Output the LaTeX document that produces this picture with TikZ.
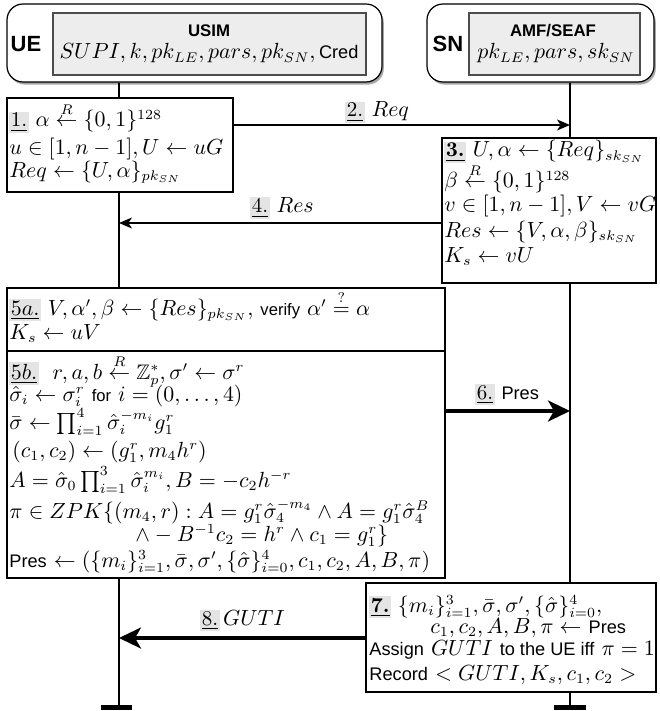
\documentclass[tikz,border=0pt]{standalone}
\usepackage{amsmath,amssymb}
\usepackage{fontspec}
\setsansfont{Liberation Sans}
\usetikzlibrary{arrows.meta,shadows,fit}
\definecolor{hlgray}{HTML}{E4E4E4}
\definecolor{innerfill}{HTML}{EDEDED}
\newcommand{\stepnum}[1]{{\setlength{\fboxsep}{0.7pt}\colorbox{hlgray}{\underline{#1}}}}
\newcommand{\sftxt}[1]{{\fontsize{9.1}{11}\selectfont\sffamily #1}}
\newcommand{\smsf}[1]{{\fontsize{8.3}{10}\selectfont\sffamily #1}}
\tikzset{
  partbox/.style={draw=black, line width=0.6pt, rounded corners=8pt, fill=white, inner sep=0pt,
    drop shadow={shadow xshift=0.9pt, shadow yshift=-1.3pt, opacity=0.35, fill=black}},
  innerbox/.style={draw=black!70, line width=0.6pt, fill=innerfill, inner sep=0pt},
  stepbox/.style={draw=black, line width=0.6pt, fill=white, inner sep=0pt},
  life/.style={draw=black, line width=0.6pt},
  endbar/.style={draw=black, line width=2.5pt},
  arr/.style={draw=black, line width=0.6pt, -{Stealth[length=6.5pt, width=5.5pt, inset=1.8pt]}},
  tarr/.style={draw=black, line width=1.7pt, -{Stealth[length=11pt, width=10.5pt, inset=3pt]}},
  ln/.style={anchor=base west, inner sep=0pt, font=\fontsize{10.5}{12.6}\selectfont},
  lbl/.style={anchor=base west, inner sep=0pt, font=\fontsize{10.5}{12.6}\selectfont},
  actor/.style={inner sep=0pt, font=\fontsize{11}{13}\selectfont\sffamily\bfseries},
  comp/.style={inner sep=0pt, font=\fontsize{8.4}{10}\selectfont\sffamily\bfseries},
}
\begin{document}
\begin{tikzpicture}[x=0.5pt,y=-0.5pt]
\useasboundingbox (0,0) rectangle (659,711);

% participants
\node[partbox, fit={(7,4) (382,82)}] (ue) {};
\node[innerbox, fit={(53,13) (366,75)}] (usim) {};
\node[actor] (uelab) at (26,44) {UE};
\node[comp] (usimlab) at (209,31) {USIM};
\node[ln, anchor=base] (usimdata) at (209,59) {$SUPI, k, pk_{LE}, pars, pk_{SN},$\,\sftxt{Cred}};

\node[partbox, fit={(427,4) (654,82)}] (sn) {};
\node[innerbox, fit={(469,13) (640,75)}] (amf) {};
\node[actor] (snlab) at (448,44) {SN};
\node[comp] (amflab) at (553,31) {AMF/SEAF};
\node[ln, anchor=base] (amfdata) at (556,59) {$pk_{LE}, pars, sk_{SN}$};

% step boxes
\node[stepbox, fit={(7,98) (233,192)}] (b1) {};
\node[stepbox, fit={(442,138) (656,283)}] (b3) {};
\node[stepbox, fit={(7,288) (445,351)}] (b5a) {};
\node[stepbox, fit={(7,351) (445,578)}] (b5b) {};
\node[stepbox, fit={(366,583) (656,692)}] (b7) {};

% lifelines
\coordinate (uex) at (119,0);
\coordinate (snx) at (570,0);
\coordinate (ueend) at (119,707);
\coordinate (snend) at (570,707);
\draw[life] (ue.south -| uex) -- (b1.north -| uex);
\draw[life] (b1.south -| uex) -- (b5a.north -| uex);
\draw[life] (b5b.south -| uex) -- (ueend);
\draw[life] (sn.south -| snx) -- (b3.north -| snx);
\draw[life] (b3.south -| snx) -- (b7.north -| snx);
\draw[life] (b7.south -| snx) -- (snend);
\draw[endbar] (101,707) -- (132,707);
\draw[endbar] (554,707) -- (586,707);

% messages
\coordinate (m2) at (570,125);
\coordinate (m4) at (119,223);
\coordinate (m6) at (570,411);
\coordinate (m8) at (119,638);
\draw[arr] (b1.east |- m2) -- (m2);
\draw[arr] (b3.west |- m4) -- (m4);
\draw[tarr] (b5b.east |- m6) -- (m6);
\draw[tarr] (b7.west |- m8) -- (m8);
\node[lbl] (l2) at (345,117) {\stepnum{2.} $Req$};
\node[lbl] (l4) at (250,213) {\stepnum{4.} $Res$};
\node[lbl] (l6) at (475,399) {\stepnum{6.} \sftxt{Pres}};
\node[lbl] (l8) at (200,625) {\stepnum{8.}\,$GUTI$};

% box 1
\node[ln] (t1a) at (9,127) {\stepnum{1.} $\alpha \overset{R}{\leftarrow} \{0,1\}^{128}$};
\node[ln] (t1b) at (9,155) {$u \in [1, n-1], U \leftarrow uG$};
\node[ln] (t1c) at (9,177) {$Req \leftarrow \{U,\alpha\}_{pk_{SN}}$};

% box 3
\node[ln] (t3a) at (444,157) {\stepnum{\textbf{3.}}\ $U,\alpha \leftarrow \{Req\}_{sk_{SN}}$};
\node[ln] (t3b) at (444,188) {$\beta \overset{R}{\leftarrow} \{0,1\}^{128}$};
\node[ln] (t3c) at (444,212) {$v \in [1, n-1], V \leftarrow vG$};
\node[ln] (t3d) at (444,237) {$Res \leftarrow \{V,\alpha,\beta\}_{sk_{SN}}$};
\node[ln] (t3e) at (444,262) {$K_s \leftarrow vU$};

% box 5a
\node[ln] (t5a1) at (9,315) {\stepnum{$5a.$} $V,\alpha',\beta \leftarrow \{Res\}_{pk_{SN}},$\ \smsf{verify} $\alpha' \overset{?}{=} \alpha$};
\node[ln] (t5a2) at (9,339) {$K_s \leftarrow uV$};

% box 5b
\node[ln] (t5b1) at (9,379) {\stepnum{$5b.$}\ \ $r,a,b \overset{R}{\leftarrow} \mathbb{Z}_p^{*}, \sigma' \leftarrow \sigma^{r}$};
\node[ln] (t5b2) at (9,401) {$\hat{\sigma}_i \leftarrow \sigma_i^{r}$ \smsf{for} $i=(0,\ldots,4)$};
\node[ln] (t5b3) at (9,429) {$\bar{\sigma} \leftarrow \prod_{i=1}^{4} \hat{\sigma}_i^{-m_i} g_1^{r}$};
\node[ln] (t5b4) at (12,457) {$(c_1,c_2) \leftarrow (g_1^{r}, m_4 h^{r})$};
\node[ln] (t5b5) at (9,487) {$A = \hat{\sigma}_0 \prod_{i=1}^{3} \hat{\sigma}_i^{m_i}, B = -c_2 h^{-r}$};
\node[ln] (t5b6) at (9,518) {$\pi \in ZPK\{(m_4,r): A = g_1^{r}\hat{\sigma}_4^{-m_4} \wedge A = g_1^{r}\hat{\sigma}_4^{B}$};
\node[ln] (t5b7) at (135,541) {$\wedge - B^{-1}c_2 = h^{r} \wedge c_1 = g_1^{r}\}$};
\node[ln] (t5b8) at (9,567) {\sftxt{Pres} $\leftarrow (\{m_i\}_{i=1}^{3}, \bar{\sigma}, \sigma', \{\hat{\sigma}\}_{i=0}^{4}, c_1, c_2, A, B, \pi)$};

% box 7
\node[ln] (t7a) at (369,612) {\stepnum{\textbf{7.}}\ $\{m_i\}_{i=1}^{3}, \bar{\sigma}, \sigma', \{\hat{\sigma}\}_{i=0}^{4},$};
\node[ln] (t7b) at (430,633) {$c_1, c_2, A, B, \pi \leftarrow$ \sftxt{Pres}};
\node[ln] (t7c) at (369,655) {\sftxt{Assign} $GUTI$ \sftxt{to the UE iff} $\pi = 1$};
\node[ln] (t7d) at (369,680) {\sftxt{Record} $< GUTI, K_s, c_1, c_2 >$};
\end{tikzpicture}
\end{document}
